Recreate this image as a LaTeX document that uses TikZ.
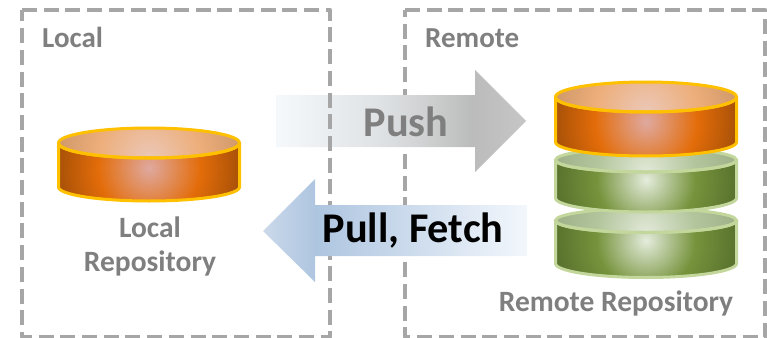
\documentclass[tikz,border=0pt]{standalone}
\usepackage{fontspec}
\setmainfont{Carlito}
\definecolor{boxgrey}{HTML}{A6A6A6}
\definecolor{labelgrey}{HTML}{7F7F7F}
\definecolor{orangeline}{HTML}{FFC000}
\definecolor{greenline}{HTML}{C3D69B}
\definecolor{pa}{HTML}{F6F9FC}\definecolor{pb}{HTML}{E0E3E6}\definecolor{pc}{HTML}{CDCFCF}\definecolor{pd}{HTML}{BBBBBB}\definecolor{pe}{HTML}{C6C6C6}
\definecolor{la}{HTML}{CBD9EA}\definecolor{lb}{HTML}{AEC5E0}\definecolor{lc}{HTML}{CBDAEC}\definecolor{ld}{HTML}{F3F7FC}
\definecolor{oa}{HTML}{DFA9A0}\definecolor{ob}{HTML}{E36C09}\definecolor{oc}{HTML}{A34F08}
\definecolor{ota}{HTML}{EBC8B8}\definecolor{otb}{HTML}{EDAE7A}\definecolor{otc}{HTML}{CE9769}
\definecolor{ga}{HTML}{E4ECDC}\definecolor{gb}{HTML}{76933C}\definecolor{gc}{HTML}{566F2C}
\definecolor{gta}{HTML}{E2E9D8}\definecolor{gtb}{HTML}{B2C59C}\definecolor{gtc}{HTML}{9CAF86}
\pgfdeclarehorizontalshading{pushgrad}{100bp}{color(0bp)=(pa);color(25bp)=(pa);color(45bp)=(pb);color(56bp)=(pc);color(64bp)=(pd);color(75bp)=(pe);color(100bp)=(pe)}
\pgfdeclarehorizontalshading{pullgrad}{100bp}{color(0bp)=(la);color(25bp)=(la);color(35bp)=(lb);color(52bp)=(lc);color(75bp)=(ld);color(100bp)=(ld)}
\pgfdeclareradialshading{orangeside}{\pgfpoint{0bp}{0bp}}{color(0bp)=(oa);color(13.5bp)=(ob);color(25bp)=(oc);color(50bp)=(oc)}
\pgfdeclareradialshading{orangetop}{\pgfpoint{0bp}{0bp}}{color(0bp)=(ota);color(13.5bp)=(otb);color(25bp)=(otc);color(50bp)=(otc)}
\pgfdeclareradialshading{greenside}{\pgfpoint{0bp}{0bp}}{color(0bp)=(ga);color(13bp)=(gb);color(25bp)=(gc);color(50bp)=(gc)}
\pgfdeclareradialshading{greentop}{\pgfpoint{0bp}{0bp}}{color(0bp)=(gta);color(13bp)=(gtb);color(25bp)=(gtc);color(50bp)=(gtc)}
\tikzset{
  zone/.style={draw=boxgrey,line width=4.5pt,dash pattern=on 15pt off 6.7pt,line join=round},
  zonelabel/.style={font=\bfseries\fontsize{29}{29}\selectfont,text=labelgrey,inner sep=0pt},
  replabel/.style={font=\bfseries\fontsize{29.5}{29.5}\selectfont,text=labelgrey,inner sep=0pt,align=center},
  actionlabel/.style={font=\bfseries\fontsize{42.3}{42.3}\selectfont,inner sep=0pt}
}
% #1 cx, #2 cy of top ellipse, #3 height of wall, #4 ry, #5 line colour, #6 side shading, #7 top shading, #8 highlight offset
\newcommand{\drum}[8]{%
  \begin{scope}
    \clip (#1-90.5,#2) arc[start angle=180,end angle=0,x radius=90.5,y radius=#4] -- (#1+90.5,#2+#3) arc[start angle=0,end angle=180,x radius=90.5,y radius=14] -- cycle;
    \shade[shading=#6] (#1-95,#2+#8-95) rectangle (#1+95,#2+#8+95);
  \end{scope}
  \begin{scope}
    \clip (#1,#2) ellipse[x radius=90.5,y radius=#4];
    \shade[shading=#7] (#1-95,#2+#4-95) rectangle (#1+95,#2+#4+95);
  \end{scope}
  \draw[#5,line width=3pt,line join=round] (#1-90.5,#2) arc[start angle=180,end angle=0,x radius=90.5,y radius=#4] -- (#1+90.5,#2+#3) arc[start angle=0,end angle=180,x radius=90.5,y radius=14] -- cycle;
  \draw[#5,line width=3pt] (#1,#2) ellipse[x radius=90.5,y radius=#4];
}
\begin{document}
\begin{tikzpicture}[x=1pt,y=-1pt]
\useasboundingbox (0,0) rectangle (767,337);
% remote zone lies under the Push arrow
\draw[zone] (405,10) -- (765,10) -- (765,337) -- (405,337) -- cycle;
\path[shading=pushgrad] (276,95) -- (475,95) -- (475,70) -- (526,121) -- (475,172) -- (475,147) -- (276,147) -- cycle;
\draw[zone] (22,10) -- (330,10) -- (330,337) -- (22,337) -- cycle;
\path[shading=pullgrad] (527,205) -- (315,205) -- (315,179) -- (263,231) -- (315,282) -- (315,256) -- (527,256) -- cycle;
\node[zonelabel,anchor=base west] (locallabel) at (42,48) {Local};
\node[zonelabel,anchor=base west] (remotelabel) at (425,48) {Remote};
\drum{149}{143}{44}{15}{orangeline}{orangeside}{orangetop}{25}
\drum{646}{220.5}{43}{12}{greenline}{greenside}{greentop}{20}
\drum{646}{160}{38}{12}{greenline}{greenside}{greentop}{20}
\drum{646}{97}{45}{15}{orangeline}{orangeside}{orangetop}{25}
\node[replabel,anchor=base] (localrep1) at (150,237) {Local};
\node[replabel,anchor=base] (localrep2) at (150,271.5) {Repository};
\node[replabel,anchor=base] (remoterep) at (616,311) {Remote Repository};
\node[actionlabel,text=labelgrey,anchor=base] (push) at (406,136) {Push};
\node[actionlabel,text=black,anchor=base] (pull) at (413,242.5) {Pull, Fetch};
\end{tikzpicture}
\end{document}
